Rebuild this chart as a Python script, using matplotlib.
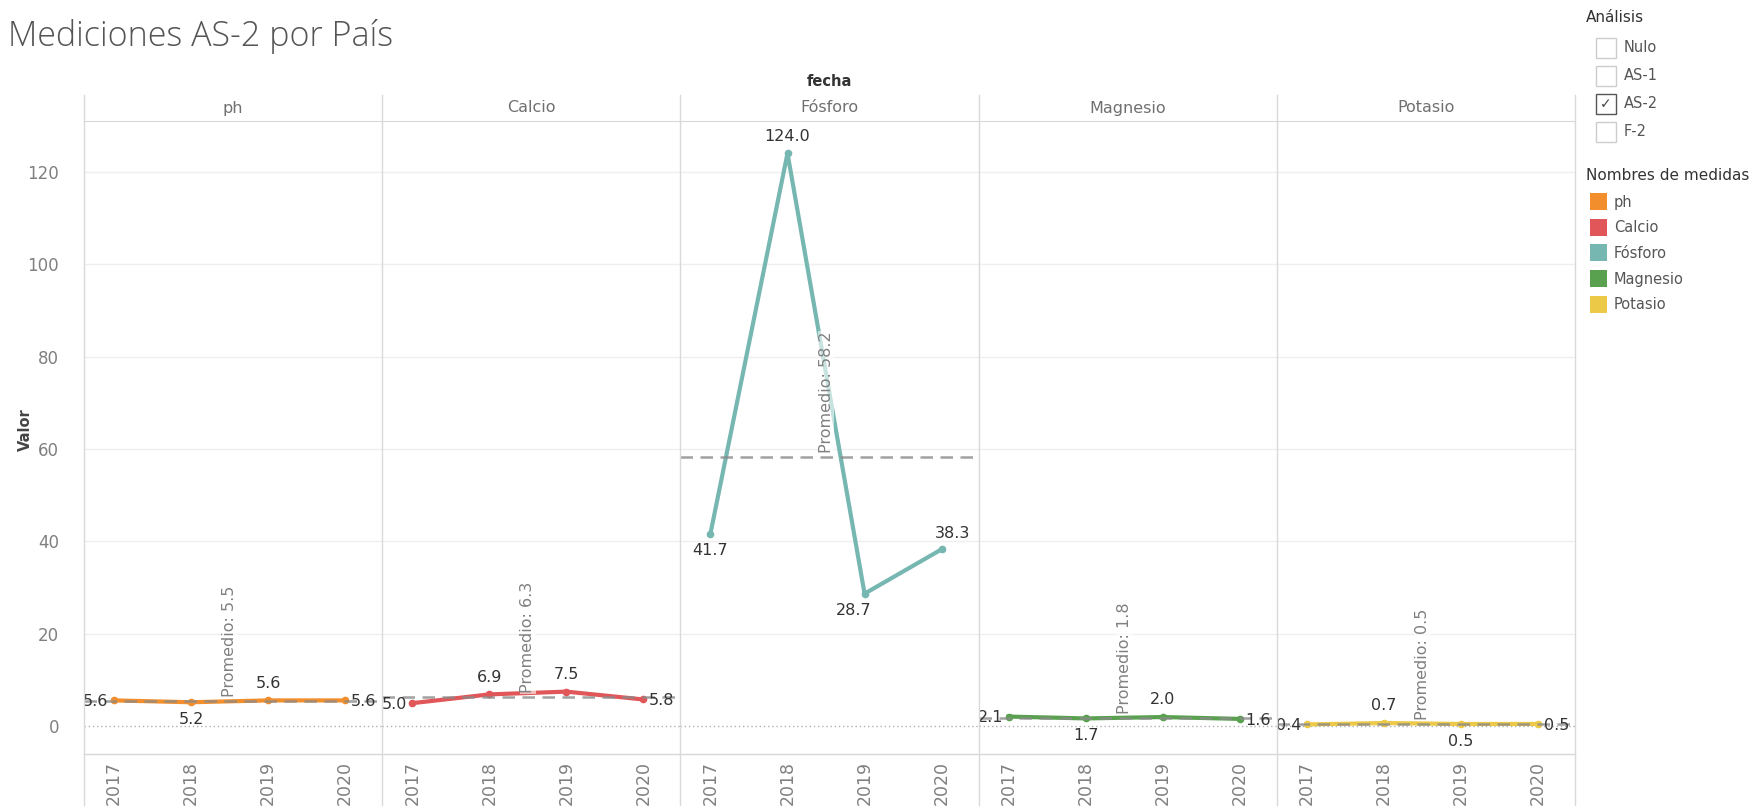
import matplotlib.pyplot as plt
from matplotlib.patches import Rectangle
from matplotlib.lines import Line2D

# data
years = ["2017", "2018", "2019", "2020"]
panels = ["ph", "Calcio", "Fósforo", "Magnesio", "Potasio"]
ph = [5.6, 5.2, 5.6, 5.6]
calcio = [5.0, 6.9, 7.5, 5.8]
fosforo = [41.7, 124.0, 28.7, 38.3]
magnesio = [2.1, 1.7, 2.0, 1.6]
potasio = [0.4, 0.7, 0.5, 0.5]
promedios = [5.5, 6.3, 58.2, 1.8, 0.5]
analisis = ["Nulo", "AS-1", "AS-2", "F-2"]
analisis_sel = "AS-2"

series = [ph, calcio, fosforo, magnesio, potasio]
colors = ["#F28E2B", "#E15759", "#76B7B2", "#59A14F", "#EDC948"]
# where each value label sits relative to its point
label_pos = [
    ["l", "b", "t", "r"],
    ["l", "t", "t", "r"],
    ["b", "t", "bl", "tr"],
    ["l", "b", "t", "r"],
    ["l", "t", "b", "r"],
]
offsets = {
    "l": ((-4, -1), "right", "center"),
    "r": ((4, -1), "left", "center"),
    "t": ((0, 7), "center", "bottom"),
    "b": ((0, -7), "center", "top"),
    "bl": ((-8, -7), "center", "top"),
    "tr": ((8, 6), "center", "bottom"),
}

W, H = 1760, 806
fig = plt.figure(figsize=(W / 100, H / 100), dpi=100)
plt.rcParams["font.family"] = ["DejaVu Sans"]


def fx(x):
    return x / W


def fy(y):
    return 1 - y / H


left, right, top, bottom = 84, 1575, 121, 754
pw = (right - left) / len(panels)
grid_c = "#d9d9d9"

for i, (name, vals, col, avg) in enumerate(zip(panels, series, colors, promedios)):
    x0 = left + i * pw
    ax = fig.add_axes([fx(x0), fy(bottom), pw / W, (bottom - top) / H])
    ax.set_xlim(-0.39, 3.48)
    ax.set_ylim(-6, 131)
    for g in range(20, 140, 20):
        ax.axhline(g, color="#efefef", lw=1, zorder=0)
    ax.axhline(0, color="#b0b0b0", lw=1, ls=(0, (1, 2)), zorder=1)
    xs = list(range(len(years)))
    ax.plot(xs, vals, color=col, lw=3, marker="o", ms=4.5, zorder=3)
    ax.axhline(avg, color="#8a8a8a", lw=1.8, ls=(0, (5, 3)), alpha=0.8, zorder=4)
    for x, v, p in zip(xs, vals, label_pos[i]):
        off, ha, va = offsets[p]
        ax.annotate(f"{v:.1f}", (x, v), xytext=off, textcoords="offset points",
                    ha=ha, va=va, fontsize=11.5, color="#333333", zorder=6)
    ax.annotate(f"Promedio: {avg}", (1.5, avg), xytext=(0, 3), textcoords="offset points",
                rotation=90, ha="center", va="bottom", fontsize=11.5, color="#808080",
                bbox=dict(boxstyle="square,pad=0.05", fc="white", ec="none", alpha=0.6),
                zorder=5)
    ax.set_xticks(xs)
    ax.set_xticklabels(years, rotation=90, fontsize=12.5, color="#808080")
    ax.tick_params(axis="x", length=0, pad=5)
    if i == 0:
        ax.set_yticks(range(0, 140, 20))
        ax.tick_params(axis="y", length=0, pad=18, labelsize=12, labelcolor="#808080")
    else:
        ax.set_yticks([])
    for s in ["left", "right"]:
        ax.spines[s].set_visible(False)
    ax.spines["top"].set_color(grid_c)
    ax.spines["bottom"].set_color(grid_c)
    fig.text(fx(x0 + pw / 2), fy(108), name, ha="center", va="center",
             fontsize=11.5, color="#707070")

fig.text(fx(25), fy(430), "Valor", rotation=90, ha="center", va="center",
         fontsize=10.5, color="#444444", fontweight="bold")

# panel separators
for i in range(len(panels) + 1):
    xx = fx(left + i * pw)
    fig.add_artist(Line2D([xx, xx], [fy(95), fy(806)], color=grid_c, lw=1))
fig.add_artist(Line2D([fx(left), fx(right)], [fy(754), fy(754)], color=grid_c, lw=1))

fig.text(fx(left + (right - left) / 2), fy(81), "fecha", ha="center", va="center",
         fontsize=10.5, color="#333333", fontweight="semibold")
fig.text(fx(8), fy(37), "Mediciones AS-2 por País", ha="left", va="center",
         fontsize=24.5, color="#555555", family=["Open Sans", "DejaVu Sans"], fontweight="light")

# legend: filter list
fig.text(fx(1586), fy(17), "Análisis", ha="left", va="center", fontsize=11,
         color="#333333")
for k, a in enumerate(analisis):
    yc = 48 + k * 28
    sel = a == analisis_sel
    fig.add_artist(Rectangle((fx(1596), fy(yc + 10)), 20 / W, 20 / H,
                             fc="white", ec="#555555" if sel else "#cccccc", lw=1))
    if sel:
        fig.text(fx(1606), fy(yc), "✓", ha="center", va="center", fontsize=10, color="#444444")
    fig.text(fx(1624), fy(yc), a, ha="left", va="center", fontsize=10.5, color="#555555")

fig.text(fx(1586), fy(176), "Nombres de medidas", ha="left", va="center", fontsize=11,
         color="#333333")
for k, (name, col) in enumerate(zip(panels, colors)):
    yc = 202 + k * 25.7
    fig.add_artist(Rectangle((fx(1590), fy(yc + 8)), 17 / W, 17 / H, fc=col, ec="none"))
    fig.text(fx(1614), fy(yc), name, ha="left", va="center", fontsize=10.5, color="#555555")

fig.savefig("out.png", dpi=100, facecolor="white")
